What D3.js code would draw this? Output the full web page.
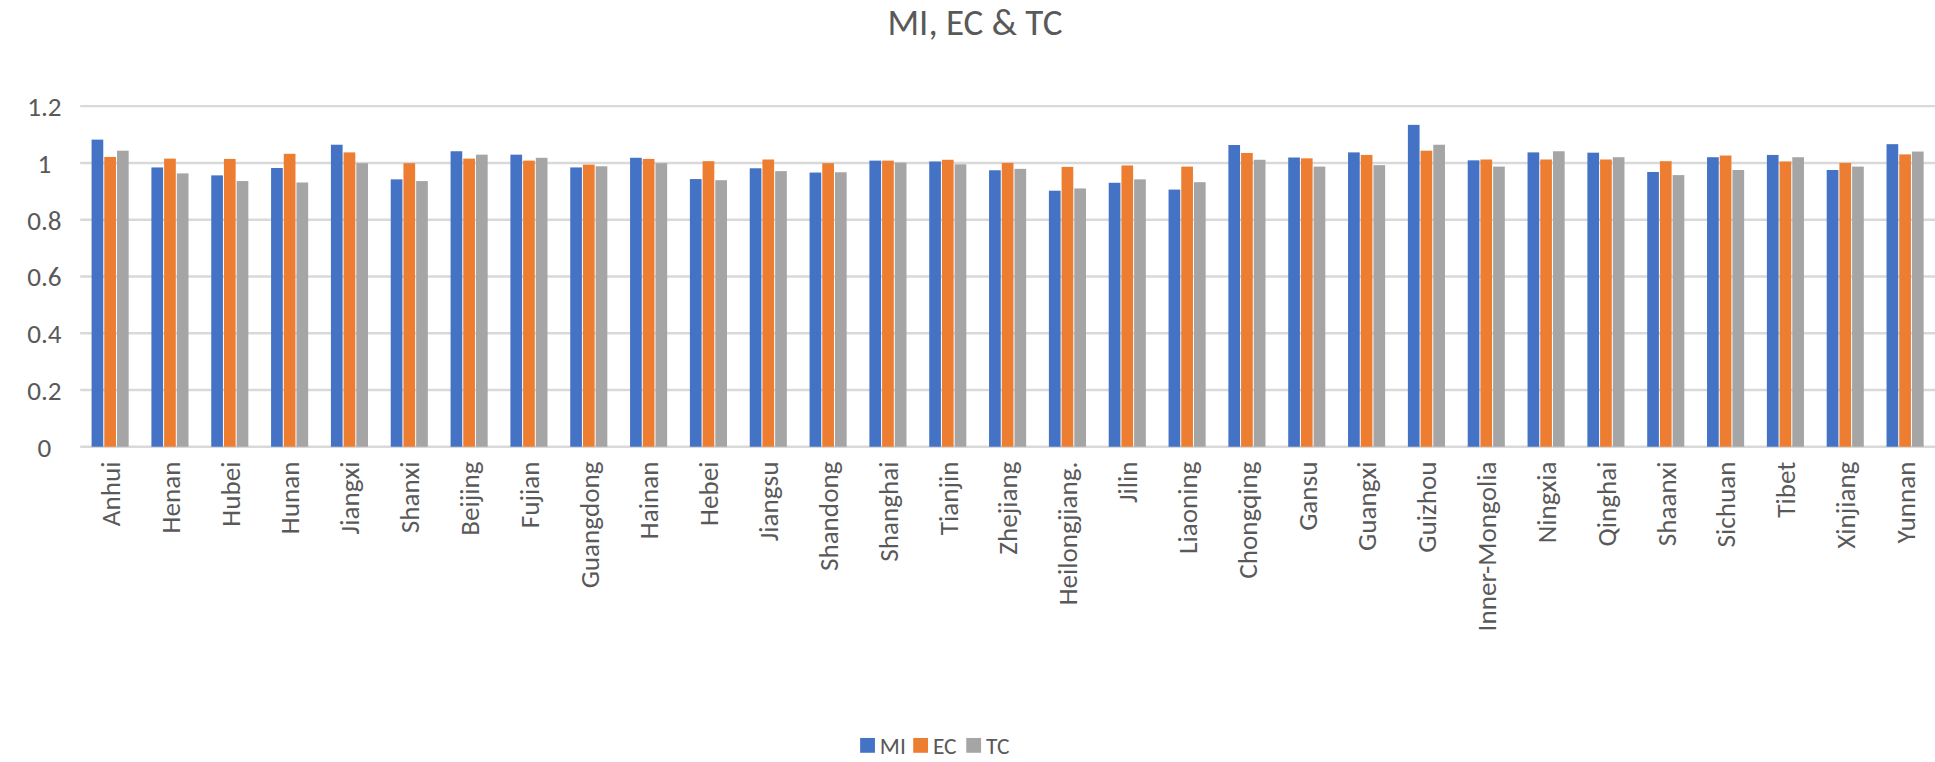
<!DOCTYPE html><html><head><meta charset="utf-8">
<script src="https://cdn.jsdelivr.net/npm/d3@7"></script>
<style>body{margin:0;background:#fff}text{font-family:Calibri,"Liberation Sans",Arial,sans-serif;fill:#595959}</style></head><body>
<svg id="c" width="1935" height="762"></svg>
<script>
const categories=["Anhui","Henan","Hubei","Hunan","Jiangxi","Shanxi","Beijing","Fujian","Guangdong","Hainan","Hebei","Jiangsu","Shandong","Shanghai","Tianjin","Zhejiang","Heilongjiang.","Jilin","Liaoning","Chongqing","Gansu","Guangxi","Guizhou","Inner-Mongolia","Ningxia","Qinghai","Shaanxi","Sichuan","Tibet","Xinjiang","Yunnan"];
const MI=[1.082,0.984,0.956,0.982,1.064,0.942,1.041,1.029,0.984,1.018,0.943,0.981,0.966,1.008,1.005,0.974,0.902,0.930,0.906,1.063,1.019,1.037,1.134,1.009,1.037,1.036,0.968,1.020,1.028,0.975,1.066];
const EC=[1.021,1.015,1.014,1.032,1.037,0.999,1.015,1.008,0.994,1.014,1.006,1.012,0.999,1.008,1.011,1.000,0.986,0.991,0.987,1.035,1.016,1.028,1.043,1.012,1.012,1.012,1.006,1.026,1.005,1.000,1.030];
const TC=[1.043,0.963,0.936,0.931,0.999,0.936,1.029,1.018,0.988,0.999,0.939,0.971,0.967,1.001,0.995,0.979,0.910,0.942,0.932,1.011,0.987,0.992,1.064,0.987,1.041,1.020,0.957,0.975,1.020,0.987,1.040];
const seriesNames=["MI","EC","TC"];
const yTicks=[0,0.2,0.4,0.6,0.8,1,1.2];
const colors=["#4472C4","#ED7D31","#A5A5A5"];
const series=[MI,EC,TC];
const svg=d3.select("#c");
const root=svg.append("g").attr("transform",`scale(${1935/1568})`);
const L=65,R=1568,T=86,B=362;
const x=d3.scaleBand().domain(categories).range([L,R]).paddingInner(0.38).paddingOuter(0.19);
const xs=d3.scaleBand().domain(seriesNames).range([0,x.bandwidth()]).paddingInner(0.08);
const y=d3.scaleLinear().domain([0,1.2]).range([B,T]);
root.append("text").attr("x",790).attr("y",28).attr("text-anchor","middle").style("font-size","30px").text("MI, EC & TC");
const g=root.append("g");
g.selectAll("line.grid").data(yTicks).join("line").attr("x1",L).attr("x2",R).attr("y1",d=>y(d)).attr("y2",d=>y(d)).attr("stroke","#d9d9d9").attr("stroke-width",2);
g.selectAll("text.yt").data(yTicks).join("text").attr("x",36).attr("y",d=>y(d)+8).attr("text-anchor","middle").style("font-size","22px").text(d=>d);
series.forEach((s,i)=>{
 g.append("g").selectAll("rect").data(s).join("rect")
  .attr("x",(d,j)=>x(categories[j])+xs(seriesNames[i])).attr("width",xs.bandwidth())
  .attr("y",d=>y(d)).attr("height",d=>B-y(d)).attr("fill",colors[i]);
});
g.selectAll("text.xl").data(categories).join("text")
 .attr("transform",d=>`translate(${x(d)+x.bandwidth()/2+8},${B+12}) rotate(-90)`)
 .attr("text-anchor","end").style("font-size","22px").text(d=>d);
const lg=root.append("g").attr("transform","translate(697,605)");
seriesNames.forEach((n,i)=>{
 const o=i*43;
 lg.append("rect").attr("x",o).attr("y",-7).attr("width",12).attr("height",12).attr("fill",colors[i]);
 lg.append("text").attr("x",o+16).attr("y",6).style("font-size","19px").text(n);
});
</script></body></html>
